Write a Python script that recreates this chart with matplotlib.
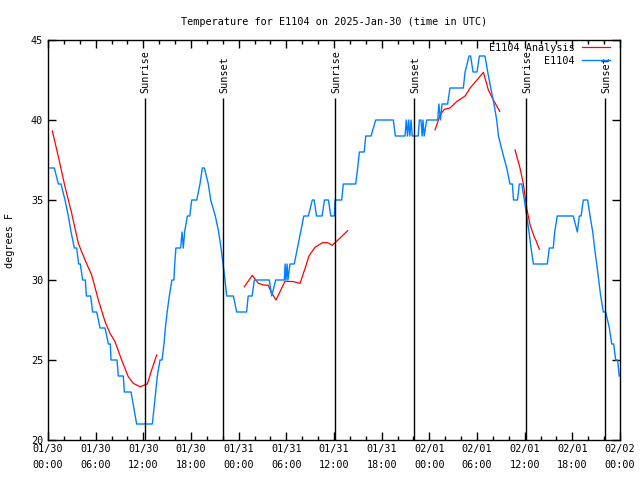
import matplotlib
matplotlib.use("Agg")
import matplotlib.pyplot as plt
import numpy as np

plt.rcParams['font.family'] = ['DejaVu Sans Mono']
FS = 7.3

# hours since 2025-01-30 00:00 UTC
obs_hours = [0.25, 0.80, 1.30, 1.64, 2.14, 2.56, 2.90, 3.32, 3.61, 3.86, 4.07, 4.36, 4.70, 4.83,
             5.37, 5.62, 6.13, 6.55, 7.18, 7.60, 7.85, 7.93, 8.69, 8.85, 9.48, 9.61, 10.45, 10.8,
             11.16, 13.13, 13.35, 13.55, 13.76, 14.1, 14.35, 14.6, 14.77, 15.0, 15.27, 15.6, 15.85,
             15.95, 16.1, 16.7, 16.87, 17.03, 17.2, 17.54, 17.85, 18.09, 18.72, 19.13, 19.43, 19.68,
             20.18, 20.48, 21.06, 21.48, 21.78, 22.03, 22.28, 22.49, 23.33, 23.75, 25.0, 25.2, 25.7,
             25.97, 27.86, 28.16, 28.66, 29.75, 29.85, 29.95, 30.1, 30.2, 30.46, 31.0, 31.4, 31.8,
             32.2, 32.77, 33.27, 33.5, 33.8, 34.5, 34.8, 35.3, 35.6, 36.04, 36.13, 36.97, 37.17,
             38.73, 38.98, 39.2, 39.8, 40.0, 40.66, 41.25, 43.47, 43.72, 44.94, 45.1, 45.25, 45.4,
             45.55, 45.7, 45.85, 46.1, 46.6, 46.75, 46.95, 47.1, 47.2, 47.35, 47.67, 49.05, 49.2,
             49.4, 49.6, 50.3, 50.6, 52.28, 52.5, 53.0, 53.2, 53.5, 54.0, 54.3, 55.0, 55.35, 55.73,
             56.14, 56.48, 56.7, 57.2, 57.74, 58.15, 58.45, 58.6, 59.1, 59.33, 59.63, 59.96, 60.26,
             60.55, 60.8, 61.1, 62.85, 63.1, 63.6, 63.78, 64.1, 66.12, 66.63, 66.88, 67.1, 67.38,
             67.93, 68.23, 68.57, 68.8, 69.07, 69.32, 69.57, 69.9, 70.2, 70.66, 70.96, 71.2, 71.46,
             71.7, 71.9]
obs_temps = [37, 37, 36, 36, 35, 34, 33, 32, 32, 31, 31, 30, 30, 29,
             29, 28, 28, 27, 27, 26, 26, 25, 25, 24, 24, 23, 23, 22,
             21, 21, 22, 23, 24, 25, 25, 26, 27, 28, 29, 30, 30,
             31, 32, 32, 33, 32, 33, 34, 34, 35, 35, 36, 37, 37,
             36, 35, 34, 33, 32, 31, 30, 29, 29, 28, 28, 29, 29,
             30, 30, 29, 30, 30, 31, 30, 31, 30, 31, 31, 32, 33,
             34, 34, 35, 35, 34, 34, 35, 35, 34, 34, 35, 35, 36,
             36, 37, 38, 38, 39, 39, 40, 40, 39, 39, 40, 39, 40,
             39, 40, 39, 39, 39, 40, 40, 39, 40, 39, 40, 40, 41,
             40, 41, 41, 42, 42, 43, 44, 44, 43, 43, 44, 44, 43, 42,
             41, 40, 39, 38, 37, 36, 36, 35, 35, 36, 36, 35, 34,
             33, 32, 31, 31, 32, 32, 33, 34, 34, 33, 34, 34, 35,
             35, 34, 33, 32, 31, 30, 29, 28, 28, 27, 26, 26, 25,
             25, 24]

# analysis curve, four separate pieces
ana_hours = [
    [0.55, 1.30, 2.14, 2.98, 3.82, 4.66, 5.5, 6.34, 7.18, 7.8, 8.43, 9.27, 10.1, 10.74,
     11.58, 12.5, 13.05, 13.68],
    [24.71, 25.72, 26.48, 27.1, 27.73, 28.07, 28.7, 29.2, 29.83, 30.88, 31.72, 32.43, 32.85,
     33.6, 34.53, 35.2, 35.79, 36.13, 37.3, 37.72],
    [48.72, 49.35, 49.9, 50.6, 51.45, 52.5, 53.1, 54.17, 54.8, 55.43, 56.06, 56.86],
    [58.79, 59.42, 59.83, 60.26, 60.68, 61.22, 61.43, 61.85],
]
ana_temps = [
    [39.31, 37.71, 35.83, 34.17, 32.29, 31.25, 30.31, 28.75, 27.40, 26.67, 26.15, 25.0, 23.96,
     23.54, 23.33, 23.5, 24.38, 25.31],
    [29.58, 30.29, 29.79, 29.69, 29.67, 29.27, 28.75, 29.27, 29.92, 29.9, 29.79, 30.83, 31.5,
     32.04, 32.33, 32.33, 32.17, 32.33, 32.88, 33.08],
    [39.38, 40.31, 40.67, 40.75, 41.15, 41.5, 41.98, 42.6, 42.98, 41.88, 41.25, 40.54],
    [38.13, 36.98, 36.02, 34.48, 33.44, 32.67, 32.46, 31.92],
]

sun_hours = [12.15, 22.05, 36.15, 46.1, 60.2, 70.15]
sun_labels = ["Sunrise", "Sunset", "Sunrise", "Sunset", "Sunrise", "Sunset"]

tick_labels = ["01/30\n00:00", "01/30\n06:00", "01/30\n12:00", "01/30\n18:00",
               "01/31\n00:00", "01/31\n06:00", "01/31\n12:00", "01/31\n18:00",
               "02/01\n00:00", "02/01\n06:00", "02/01\n12:00", "02/01\n18:00",
               "02/02\n00:00"]

fig = plt.figure(figsize=(6.4, 4.8), dpi=100)
ax = fig.add_axes([48 / 640, 40 / 480, 572 / 640, 400 / 480])

for i in range(len(ana_hours)):
    ax.plot(ana_hours[i], ana_temps[i], color='red', lw=0.9,
            label="E1104 Analysis" if i == 0 else None)
ax.plot(obs_hours, obs_temps, color='#0080ff', lw=1.0, label="E1104")

for h, lab in zip(sun_hours, sun_labels):
    ax.vlines(h, 20, 41.4, color='black', lw=1.0)
    ax.text(h + 0.1, 41.7, lab, rotation=90, ha='center', va='bottom', fontsize=FS)

ax.set_xlim(0, 72)
ax.set_ylim(20, 45)
ax.set_xticks(np.arange(0, 73, 6))
ax.set_xticklabels(tick_labels, linespacing=1.75)
ax.set_xticks(np.arange(0, 73, 2), minor=True)
ax.set_yticks(np.arange(20, 46, 5))
ax.tick_params(which='both', direction='in', top=True, right=True, labelsize=FS)
ax.tick_params(which='major', length=6, width=1)
ax.tick_params(which='minor', length=3, width=1)
ax.tick_params(axis='x', pad=3)
for s in ax.spines.values():
    s.set_linewidth(1)

ax.set_ylabel("degrees F", fontsize=FS)
ax.yaxis.set_label_coords(-0.058, 0.5)
ax.set_title("Temperature for E1104 on 2025-Jan-30 (time in UTC)", fontsize=FS, pad=11)

ax.legend(loc='upper right', bbox_to_anchor=(0.9825, 0.9925), frameon=False,
          markerfirst=False, fontsize=FS, handlelength=2.8, handletextpad=0.7,
          borderpad=0, borderaxespad=0, labelspacing=0.3)

fig.savefig("out.png", dpi=100)
